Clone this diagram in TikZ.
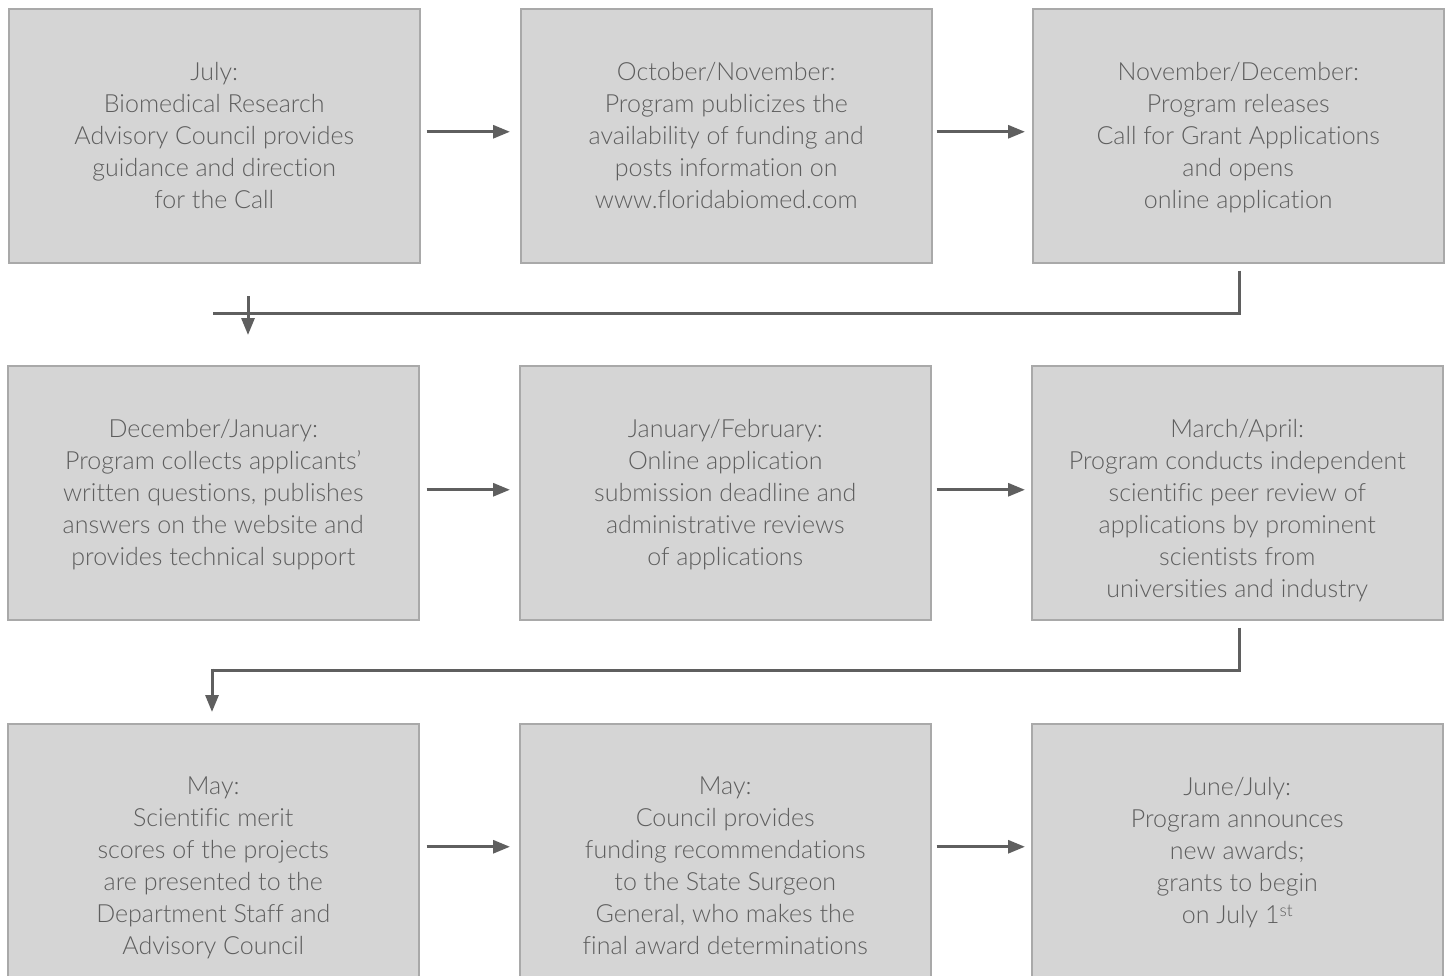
\documentclass[tikz,border=0pt]{standalone}
\usepackage{fontspec}
\setmainfont{Lato}[UprightFont=* Light, RawFeature={-liga;-dlig;-clig}]
\usetikzlibrary{arrows.meta,calc}
\definecolor{boxfill}{HTML}{D5D5D5}
\definecolor{boxline}{HTML}{A9A9A9}
\definecolor{txt}{HTML}{5E5E5E}
\definecolor{arr}{HTML}{5F5F5F}
\begin{document}
\begin{tikzpicture}[x=1pt,y=-1pt,
 box/.style={draw=boxline, fill=boxfill, line width=1.5pt, minimum width=411pt, minimum height=254pt, anchor=north west, inner sep=0},
 lbl/.style={anchor=north, align=center, text=txt, font=\fontsize{25}{32}\selectfont, inner sep=0},
 conn/.style={draw=arr, line width=3pt},
 arrow/.style={conn, -{Triangle[length=17pt,width=13pt]}}]
\useasboundingbox (0,0) rectangle (1449,975);
\clip (0,0) rectangle (1449,975);
\node[box] (b1) at (8,8) {};
\node[box] (b2) at (520,8) {};
\node[box] (b3) at (1032,8) {};
\node[box] (b4) at (7,365) {};
\node[box] (b5) at (519,365) {};
\node[box] (b6) at (1031,365) {};
\node[box] (b7) at (7,723) {};
\node[box] (b8) at (519,723) {};
\node[box] (b9) at (1031,723) {};
\node[lbl] (t1) at ($(b1.north)+(0,54)$) {July:\\Biomedical Research\\Advisory Council provides\\guidance and direction\\for the Call};
\node[lbl] (t2) at ($(b2.north)+(0,54)$) {October/November:\\Program publicizes the\\availability of funding and\\posts information on\\www.floridabiomed.com};
\node[lbl] (t3) at ($(b3.north)+(0,54)$) {November/December:\\Program releases\\Call for Grant Applications\\and opens\\online application};
\node[lbl] (t4) at ($(b4.north)+(0,54)$) {December/January:\\Program collects applicants’\\written questions, publishes\\answers on the website and\\provides technical support};
\node[lbl] (t5) at ($(b5.north)+(0,54)$) {January/February:\\Online application\\submission deadline and\\administrative reviews\\of applications};
\node[lbl] (t6) at ($(b6.north)+(0,54)$) {March/April:\\Program conducts independent\\scientific peer review of\\applications by prominent\\scientists from\\universities and industry};
\node[lbl] (t7) at ($(b7.north)+(0,54)$) {May:\\Scientific merit\\scores of the projects\\are presented to the\\Department Staff and\\Advisory Council};
\node[lbl] (t8) at ($(b8.north)+(0,54)$) {May:\\Council provides\\funding recommendations\\to the State Surgeon\\General, who makes the\\final award determinations};
\node[lbl] (t9) at ($(b9.north)+(0,54)$) {June/July:\\Program announces\\new awards;\\grants to begin\\on July 1\raisebox{0.55ex}{\fontsize{17}{17}\selectfont st}};
% horizontal arrows
\draw[arrow] ($(b1.east)+(6,-4)$) -- ($(b2.west)+(-10,-4)$);
\draw[arrow] ($(b2.east)+(4,-4)$) -- ($(b3.west)+(-7,-4)$);
\draw[arrow] ($(b4.east)+(7,-3)$) -- ($(b5.west)+(-9,-3)$);
\draw[arrow] ($(b5.east)+(5,-3)$) -- ($(b6.west)+(-6,-3)$);
\draw[arrow] ($(b7.east)+(7,-4)$) -- ($(b8.west)+(-9,-4)$);
\draw[arrow] ($(b8.east)+(5,-4)$) -- ($(b9.west)+(-6,-4)$);
% connector row 1 -> row 2
\coordinate (c1end) at (213,313);
\coordinate (c1a) at (248,296);
\draw[conn] ($(b3.south)+(1.5,7)$) |- (c1end);
\draw[arrow] (c1a) -- ($(b4.north west)+(241,-30)$);
% connector row 2 -> row 3
\coordinate (c2turn) at (212,670);
\draw[conn] ($(b6.south)+(2.5,7)$) |- (c2turn);
\draw[arrow] ($(c2turn)+(0,-1.5)$) -- ($(b7.north west)+(205,-11)$);
\end{tikzpicture}
\end{document}
